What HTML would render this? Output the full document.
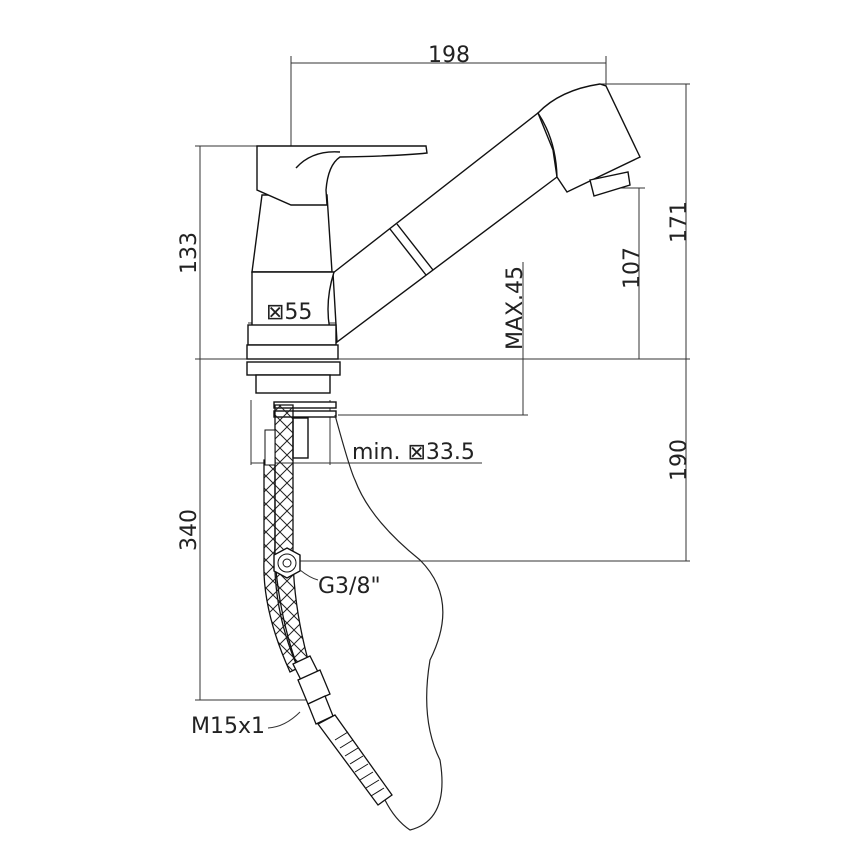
<!DOCTYPE html>
<html><head><meta charset="utf-8"><style>html,body{margin:0;padding:0;background:#fff}svg{display:block}text{font-family:"DejaVu Sans","Liberation Sans",sans-serif;fill:#222}</style></head><body>
<svg width="860" height="860" viewBox="0 0 860 860" xmlns="http://www.w3.org/2000/svg">
<defs>
<pattern id="hx" width="14" height="14" patternUnits="userSpaceOnUse"><path d="M0 0L14 14M14 0L0 14" stroke="#222" stroke-width="1"/></pattern>
</defs>
<g stroke="#333" stroke-width="1" fill="none">
<line x1="291" y1="56" x2="291" y2="200"/><line x1="606" y1="56" x2="606" y2="88"/>
<line x1="291" y1="63" x2="606" y2="63"/>
<line x1="195" y1="146" x2="258" y2="146"/><line x1="200" y1="146" x2="200" y2="359"/>
<line x1="195" y1="359" x2="690" y2="359"/>
<line x1="598" y1="84" x2="690" y2="84"/><line x1="686" y1="84" x2="686" y2="359"/>
<line x1="598" y1="188" x2="645" y2="188"/><line x1="639" y1="188" x2="639" y2="359"/>
<line x1="523" y1="262" x2="523" y2="415"/><line x1="338" y1="415" x2="528" y2="415"/>
<line x1="686" y1="359" x2="686" y2="561"/><line x1="300" y1="561" x2="690" y2="561"/>
<line x1="200" y1="359" x2="200" y2="700"/><line x1="195" y1="700" x2="310" y2="700"/>
<line x1="251" y1="400" x2="251" y2="465"/><line x1="330" y1="400" x2="330" y2="465"/>
<line x1="251" y1="463" x2="482" y2="463"/>
<line x1="248" y1="323" x2="336" y2="323"/>
</g>
<g stroke="#111" stroke-width="1.4" fill="#fff">
<path d="M333 273 L538 113 L553 150 L557 177 L337 342 Z"/>
<path d="M538 113 Q560 90 600 84 L606 86 L640 157 L567 192 L557 177 Q556 140 538 113 Z"/>
<path d="M590 180 L628 172 L630 185 L594 196 Z"/>
<path d="M390 229 L426 275 M397 224 L433 270" fill="none"/>
<path d="M262 195 L327 195 L332 272 L252 272 Z"/>
<path d="M252 272 L334 272 Q322 310 334 345 L252 345 Z"/>
<rect x="248" y="325" width="88" height="20"/>
<rect x="247" y="345" width="91" height="14"/>
<path d="M257 146 L426 146 L427 153 Q400 156 340 157 Q328 165 326 190 L327 205 L291 205 L257 190 Z"/>
<path d="M296 168 Q312 150 340 152"/>
<rect x="247" y="362" width="93" height="13"/>
<rect x="256" y="375" width="74" height="18"/>
<rect x="274" y="402" width="62" height="6"/><rect x="274" y="411" width="62" height="6"/>
<rect x="293" y="418" width="15" height="40"/>
</g>
<path d="M275 405 L293 405 L293 545 Q292 600 308 660 L298 668 Q272 610 275 545 Z" fill="url(#hx)" stroke="#111" stroke-width="1.3"/>
<path d="M264 460 L275 460 L275 560 Q280 620 298 668 L290 672 Q262 610 264 560 Z" fill="url(#hx)" stroke="#111" stroke-width="1.3"/>
<rect x="265" y="430" width="10" height="35" fill="#fff" stroke="#111"/>
<polygon points="287,548 300,555 300,571 287,578 274,571 274,555" fill="#fff" stroke="#111" stroke-width="1.4"/>
<circle cx="287" cy="563" r="9" fill="#fff" stroke="#111"/>
<circle cx="287" cy="563" r="4" fill="#fff" stroke="#111"/>
<g stroke="#111" stroke-width="1.3" fill="#fff">
<path d="M293 664 L310 656 L318 672 L301 680 Z"/>
<path d="M298 680 L320 670 L330 694 L308 704 Z"/>
<path d="M308 704 L325 696 L333 716 L316 724 Z"/>
<path d="M318 724 L335 715 L392 795 L378 805 Z"/>
</g>
<g stroke="#111" stroke-width="1">
<path d="M335 740L348 732M340 748L353 740M345 756L358 748M350 764L363 756M355 772L368 764M360 780L373 772M366 788L379 780M371 796L384 788"/>
</g>
<path d="M335 415 Q350 470 355 480 Q370 520 420 560 Q460 600 430 660 Q420 720 440 760 Q450 820 410 830 Q395 820 385 800" fill="none" stroke="#222" stroke-width="1.2"/>
<path d="M300 570 Q310 578 318 580" fill="none" stroke="#333"/>
<path d="M268 728 Q285 727 300 712" fill="none" stroke="#333"/>
<text x="449" y="62" font-size="22" text-anchor="middle">198</text>
<text transform="translate(196,253) rotate(-90)" font-size="22" text-anchor="middle">133</text>
<text transform="translate(686,222) rotate(-90)" font-size="22" text-anchor="middle">171</text>
<text transform="translate(639,268) rotate(-90)" font-size="22" text-anchor="middle">107</text>
<text transform="translate(522,308) rotate(-90)" font-size="22" text-anchor="middle">MAX.45</text>
<text transform="translate(686,460) rotate(-90)" font-size="22" text-anchor="middle">190</text>
<text transform="translate(196,530) rotate(-90)" font-size="22" text-anchor="middle">340</text>
<text x="266" y="319" font-size="22">⊠55</text>
<text x="352" y="459" font-size="22">min. ⊠33.5</text>
<text x="318" y="593" font-size="22">G3/8"</text>
<text x="191" y="733" font-size="22">M15x1</text>
</svg>
</body></html>
